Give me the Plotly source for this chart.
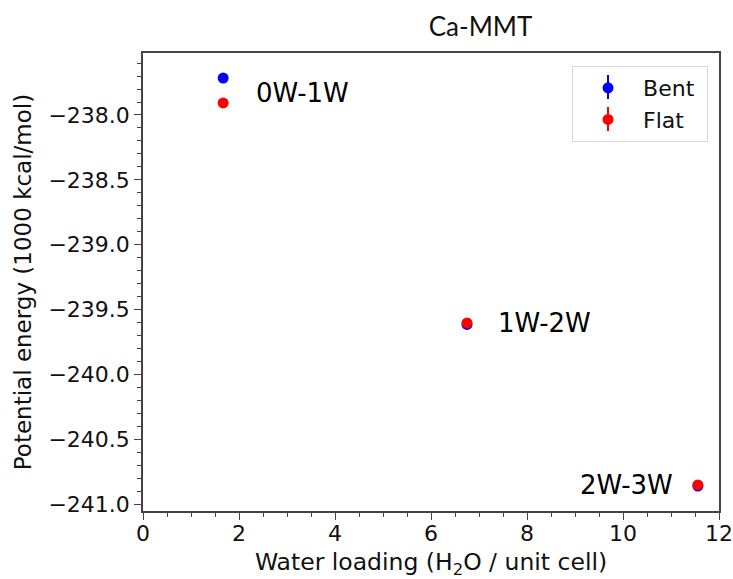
import plotly.graph_objects as go

# Data
water_loading = [1.67, 6.75, 11.56]
bent_energy = [-237.715, -239.615, -240.862]
flat_energy = [-237.907, -239.604, -240.853]
transition_labels = ["0W-1W", "1W-2W", "2W-3W"]
series_names = ["Bent", "Flat"]
series_colors = ["#0000ff", "#ff0000"]
x_ticks = [0, 2, 4, 6, 8, 10, 12]
y_ticks = [-241.0, -240.5, -240.0, -239.5, -239.0, -238.5, -238.0]

FONT = "DejaVu Sans"
NB = "\u00a0"

fig = go.Figure()
for name, yvals, col in zip(series_names, [bent_energy, flat_energy], series_colors):
    fig.add_trace(go.Scatter(
        x=water_loading, y=yvals, mode="markers", name=name + NB,
        marker=dict(color=col, size=11, line=dict(width=0)),
    ))

# transition labels
label_pos = [
    dict(dx=0.64, dy=0.077, anchor="left"),
    dict(dx=0.6, dy=0.0, anchor="left"),
    dict(dx=-0.48, dy=0.0, anchor="right"),
]
for i, (lab, p) in enumerate(zip(transition_labels, label_pos)):
    fig.add_annotation(
        x=water_loading[i] + p["dx"], y=flat_energy[i] + p["dy"], text=lab,
        showarrow=False, xanchor=p["anchor"], yanchor="middle",
        font=dict(family=FONT, size=26, color="#000"),
    )

# error-bar glyphs for the legend entries (matplotlib errorbar legend style)
W, H, L, B = 576, 458, 143, 68
def px_x(p):
    return (p - L) / W
def px_y(p):
    return (579 - B - p) / H
for col, yc in zip(series_colors, [87, 119]):
    fig.add_shape(type="line", xref="paper", yref="paper",
                  x0=px_x(608), x1=px_x(608), y0=px_y(yc - 12), y1=px_y(yc + 12),
                  line=dict(color=col, width=2))

axis_common = dict(
    showgrid=False, zeroline=False, showline=True, linecolor="#444", linewidth=1.5,
    mirror=True, ticks="outside", ticklen=7, tickwidth=1.2, tickcolor="#444",
    tickfont=dict(family=FONT, size=22, color="#111"), automargin=False,
)

fig.update_layout(
    width=733, height=579,
    margin=dict(l=143, r=14, t=53, b=68),
    paper_bgcolor="white", plot_bgcolor="white",
    title=dict(text="Ca-MMT", x=0.586, xref="paper", xanchor="center",
               y=1 - 27 / 579, yref="container", yanchor="middle",
               font=dict(family="Lato", size=26, color="#111")),
    xaxis=dict(range=[0, 12], tickvals=x_ticks, ticktext=[str(v) for v in x_ticks],
               minor=dict(dtick=0.5, ticks="outside", ticklen=4, tickcolor="#444"),
               ticklabelstandoff=-5,
               title=dict(text="Water loading (H<sub>2</sub>O / unit cell)", standoff=16,
                          font=dict(family=FONT, size=23.5, color="#111")),
               **axis_common),
    yaxis=dict(range=[-241.054, -237.522], tickvals=y_ticks,
               ticktext=["\u2212%.1f" % abs(v) for v in y_ticks],
               minor=dict(dtick=0.1, ticks="outside", ticklen=4, tickcolor="#444"),
               title=dict(text="Potential energy (1000 kcal/mol)", standoff=10,
                          font=dict(family=FONT, size=23, color="#111")),
               **axis_common),
    showlegend=True,
    legend=dict(x=0.981, y=0.9716, xanchor="right", yanchor="top",
                bordercolor="#d8d8d8", borderwidth=1, bgcolor="rgba(255,255,255,0)",
                font=dict(family=FONT, size=22, color="#111"), itemwidth=60,
                tracegroupgap=0),
)

fig.write_html("out.html")
